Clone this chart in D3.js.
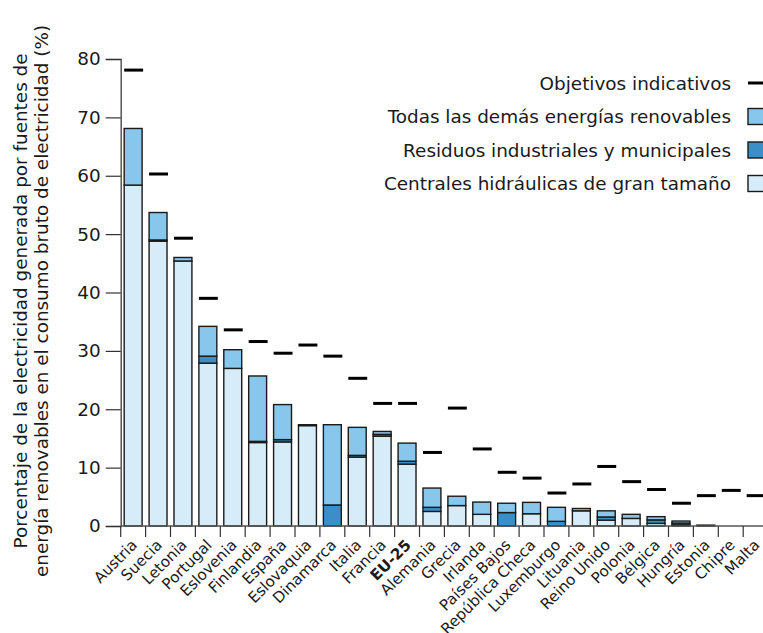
<!DOCTYPE html>
<html>
<head>
<meta charset="utf-8">
<script src="https://cdn.jsdelivr.net/npm/d3@7"></script>
<style>
  html, body { margin: 0; padding: 0; background: #fff; }
  svg { display: block; font-family: "DejaVu Sans", Verdana, sans-serif; }
</style>
</head>
<body>
<svg id="chart" width="763" height="633"></svg>
<script>
const categories = ["Austria","Suecia","Letonia","Portugal","Eslovenia","Finlandia","España","Eslovaquia","Dinamarca","Italia","Francia","EU-25","Alemania","Grecia","Irlanda","Países Bajos","República Checa","Luxemburgo","Lituania","Reino Unido","Polonia","Bélgica","Hungría","Estonia","Chipre","Malta"];
const hydro  = [58.4, 48.8, 45.4, 27.9, 27.0, 14.3, 14.4, 17.2, 0, 11.8, 15.4, 10.6, 2.5, 3.5, 2.0, 0, 2.1, 0, 2.6, 1.0, 1.3, 0.45, 0.2, 0, 0, 0];
const waste  = [0, 0.2, 0, 1.2, 0, 0.2, 0.4, 0, 3.6, 0.3, 0.3, 0.5, 0.7, 0, 0, 2.3, 0, 0.8, 0, 0.55, 0, 0.6, 0.3, 0, 0, 0];
const other  = [9.7, 4.7, 0.6, 5.1, 3.2, 11.2, 6.0, 0.15, 13.75, 4.8, 0.5, 3.1, 3.3, 1.6, 2.1, 1.6, 1.95, 2.4, 0.4, 1.05, 0.7, 0.55, 0.35, 0.15, 0, 0];
const targets = [78.1, 60.3, 49.3, 39.0, 33.6, 31.6, 29.6, 31.0, 29.1, 25.3, 21.0, 21.0, 12.6, 20.2, 13.2, 9.2, 8.2, 5.65, 7.2, 10.2, 7.6, 6.25, 3.9, 5.2, 6.1, 5.2];
const yTicks = [0, 10, 20, 30, 40, 50, 60, 70, 80];
const seriesKeys = ["hydro", "waste", "other"];
const seriesLabels = {
  target: "Objetivos indicativos",
  other: "Todas las demás energías renovables",
  waste: "Residuos industriales y municipales",
  hydro: "Centrales hidráulicas de gran tamaño"
};
const colors = { hydro: "#d7ecf9", waste: "#3b8fc8", other: "#88c6ec" };
const yTitle = ["Porcentaje de la electricidad generada por fuentes de",
                "energía renovables en el consumo bruto de electricidad (%)"];

const FS = 18.4;
const svg = d3.select("#chart");
const x0 = 120.7, step = 24.9;
const x = d3.scaleBand().domain(categories)
  .range([x0, x0 + step * categories.length])
  .paddingInner(0.28).paddingOuter(0.14);
const y = d3.scaleLinear().domain([0, 80]).range([526, 59]);

const rows = categories.map((c, i) => ({ cat: c, hydro: hydro[i], waste: waste[i], other: other[i], target: targets[i] }));
const stacked = d3.stack().keys(seriesKeys)(rows);

// bars
const gBars = svg.append("g");
stacked.forEach(s => {
  gBars.append("g").selectAll("rect").data(s).join("rect")
    .attr("x", d => x(d.data.cat))
    .attr("width", x.bandwidth())
    .attr("y", d => y(d[1]))
    .attr("height", d => Math.max(0, y(d[0]) - y(d[1])))
    .attr("fill", colors[s.key])
    .attr("stroke", "#1a1a1a")
    .attr("stroke-width", 1.4);
});

// targets
svg.append("g").selectAll("line").data(rows).join("line")
  .attr("x1", d => x(d.cat)).attr("x2", d => x(d.cat) + x.bandwidth() + 1)
  .attr("y1", d => y(d.target)).attr("y2", d => y(d.target))
  .attr("stroke", "#000").attr("stroke-width", 3);

// y axis
const yAxis = svg.append("g").attr("transform", `translate(${x0},0)`)
  .call(d3.axisLeft(y).tickValues(yTicks).tickSize(15).tickPadding(5).tickFormat(d3.format("d")));
yAxis.select(".domain").attr("stroke", "#555").attr("stroke-width", 1.5);
yAxis.selectAll(".tick line").attr("stroke", "#333").attr("stroke-width", 1.2);
yAxis.selectAll("text").attr("font-size", FS).attr("fill", "#1a1a1a")
  .attr("font-family", "DejaVu Sans, Verdana, sans-serif");

// x axis baseline & boundary ticks
const xEnd = x0 + step * categories.length;
svg.append("line").attr("x1", x0).attr("x2", xEnd).attr("y1", y(0)).attr("y2", y(0))
  .attr("stroke", "#555").attr("stroke-width", 1.5);
const boundaries = categories.map(c => x(c) - x.step() * x.paddingInner() / 2);
svg.append("g").selectAll("line").data(boundaries).join("line")
  .attr("x1", d => d).attr("x2", d => d)
  .attr("y1", y(0)).attr("y2", y(0) + 11)
  .attr("stroke", "#333").attr("stroke-width", 1.2);

// x labels
svg.append("g").selectAll("text").data(categories).join("text")
  .attr("transform", c => `translate(${x(c) + x.bandwidth() / 2 + 5},${y(0) + 20}) rotate(-45)`)
  .attr("text-anchor", "end")
  .attr("font-size", 15.2)
  .attr("font-weight", c => c === "EU-25" ? "bold" : "normal")
  .attr("fill", "#1a1a1a")
  .text(c => c);

// y title
const gt = svg.append("g").attr("transform", "translate(0,301)");
yTitle.forEach((t, i) => {
  gt.append("text").attr("transform", `translate(${20 + i * 21},0) rotate(-90)`)
    .attr("text-anchor", "middle").attr("dominant-baseline", "central")
    .attr("font-size", FS).attr("fill", "#1a1a1a").text(t);
});

// legend
const legendItems = ["target", "other", "waste", "hydro"];
const lg = svg.append("g");
legendItems.forEach((k, i) => {
  const cy = 83 + i * 33.5;
  lg.append("text").attr("x", 731).attr("y", cy).attr("text-anchor", "end")
    .attr("dominant-baseline", "central").attr("font-size", FS).attr("fill", "#1a1a1a")
    .text(seriesLabels[k]);
  if (k === "target") {
    lg.append("line").attr("x1", 748).attr("x2", 764).attr("y1", cy).attr("y2", cy)
      .attr("stroke", "#000").attr("stroke-width", 3);
  } else {
    lg.append("rect").attr("x", 748).attr("y", cy - 8).attr("width", 16).attr("height", 16)
      .attr("fill", colors[k]).attr("stroke", "#1a1a1a").attr("stroke-width", 1.4);
  }
});
</script>
</body>
</html>
